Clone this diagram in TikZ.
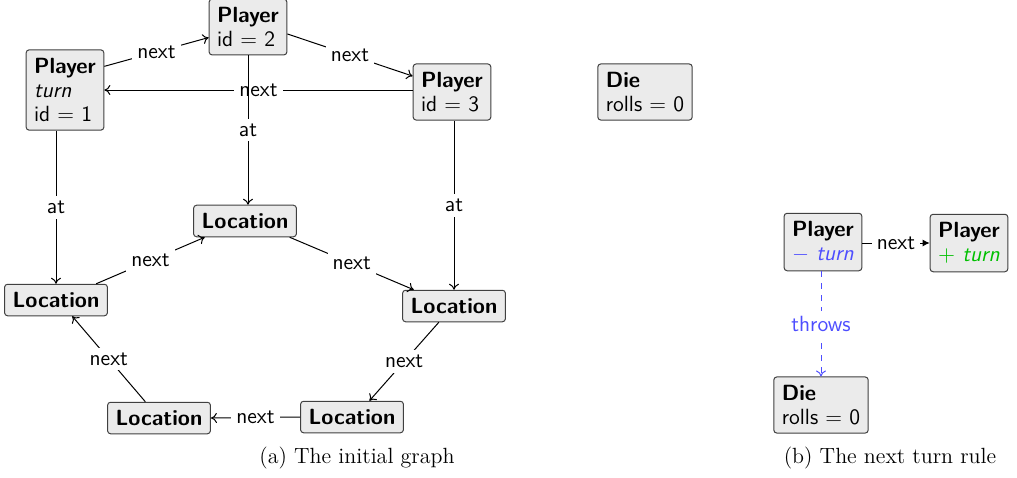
\documentclass[tikz,border=0pt]{standalone}
\usetikzlibrary{arrows.meta}
\definecolor{boxfill}{HTML}{EBEBEB}
\definecolor{boxdraw}{HTML}{404040}
\definecolor{delblue}{HTML}{4D4DFF}
\definecolor{addgreen}{HTML}{00C000}
\begin{document}
\begin{tikzpicture}[x=0.5pt,y=-0.5pt,
  obj/.style={draw=boxdraw, fill=boxfill, rounded corners=1.5pt, align=left,
    font=\fontsize{11}{12.2}\selectfont\sffamily, inner xsep=4pt, inner ysep=4pt, line width=0.5pt},
  lbl/.style={fill=white, font=\fontsize{11}{12.2}\selectfont\sffamily, inner sep=2.5pt},
  edge/.style={-{To[length=3pt,width=5pt]}, line width=0.5pt},
  captext/.style={font=\fontsize{11}{13}\selectfont\rmfamily}]
\useasboundingbox (0,0) rectangle (1017,477);
% initial graph
\node[obj] (p2) at (248,27) {\textbf{Player}\\id = 2};
\node[obj] (p1) at (65,90) {\textbf{Player}\\\textit{turn}\\id = 1};
\node[obj] (p3) at (452,92) {\textbf{Player}\\id = 3};
\node[obj] (die) at (645,92) {\textbf{Die}\\rolls = 0};
\node[obj] (ltop) at (245,221) {\textbf{Location}};
\node[obj] (lleft) at (56,300) {\textbf{Location}};
\node[obj] (lright) at (454,306) {\textbf{Location}};
\node[obj] (lbr) at (352,417) {\textbf{Location}};
\node[obj] (lbl) at (159,418) {\textbf{Location}};

\draw[edge] (p1.31) -- node[lbl] {next} (p2.195);
\draw[edge] (p2.-10) -- node[lbl] {next} (p3.158);
\draw[edge] (p3.west |- p1.east) -- node[lbl] {next} (p1.east);
\draw[edge] (p2.south) -- node[lbl] {at} (p2.south |- ltop.north);
\draw[edge] (p1.south -| lleft.north) -- node[lbl] {at} (lleft.north);
\draw[edge] (p3.south -| lright.north) -- node[lbl] {at} (lright.north);
\draw[edge] (lleft.22) -- node[lbl] {next} (ltop.202);
\draw[edge] (ltop.-20) -- node[lbl] {next} (lright.158);
\draw[edge] (lright.227) -- node[lbl] {next} (lbr.43);
\draw[edge] (lbr.west) -- node[lbl] {next} (lbl.east);
\draw[edge] (lbl.130) -- node[lbl] {next} (lleft.-45);

\node[captext] (capa) at (357,458) {(a)\ The initial graph};

% rule
\node[obj] (pm) at (823,242) {\textbf{Player}\\\textcolor{delblue}{$-$ \textit{turn}}};
\node[obj] (pp) at (969,243) {\textbf{Player}\\\textcolor{addgreen}{$+$ \textit{turn}}};
\node[obj] (rdie) at (821,405) {\textbf{Die}\\rolls = 0};
\draw[-{Latex[length=3.5pt,width=3.5pt]}, line width=0.5pt] (pm.east |- pp.west) -- node[lbl] {next} (pp.west);
\draw[edge, delblue, dashed] (pm.south -| rdie.north) -- node[lbl, text=delblue] {throws} (rdie.north);

\node[captext] (capb) at (890,458) {(b)\ The next turn rule};
\end{tikzpicture}
\end{document}
